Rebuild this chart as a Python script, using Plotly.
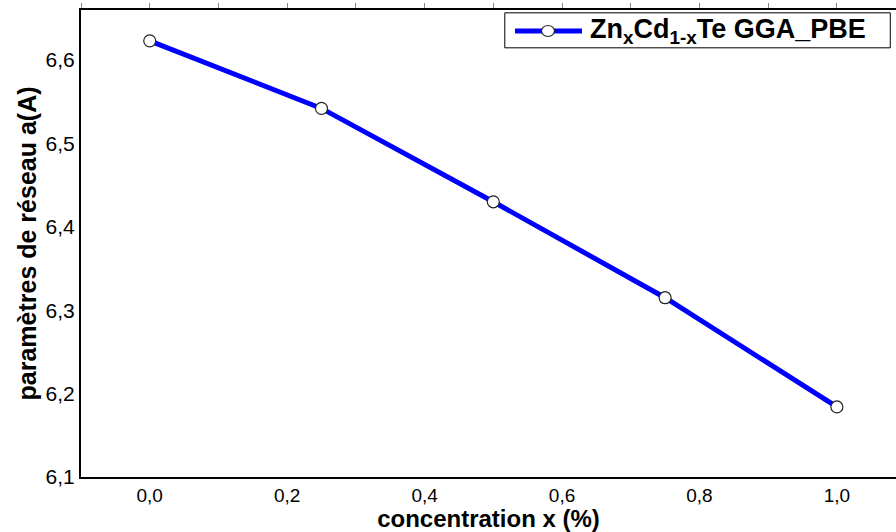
import plotly.graph_objects as go

# Lattice parameter of Zn(x)Cd(1-x)Te versus composition (GGA-PBE)
concentration = [0.0, 0.25, 0.5, 0.75, 1.0]
lattice_a = [6.623, 6.542, 6.430, 6.315, 6.184]

x_ticks = [0.0, 0.2, 0.4, 0.6, 0.8, 1.0]
y_ticks = [6.1, 6.2, 6.3, 6.4, 6.5, 6.6]

series_label = "<b>Zn<sub>x</sub>Cd<sub>1-x</sub>Te GGA_PBE</b>"
line_color = "#0000FF"

fig = go.Figure()
fig.add_trace(go.Scatter(
    x=concentration, y=lattice_a,
    mode="lines+markers",
    name=series_label, showlegend=False,
    line=dict(color=line_color, width=5),
    marker=dict(symbol="circle", size=12, color="white",
                line=dict(color="#222222", width=1.2)),
))
# top frame carrying small outward ticks every 0.1
fig.add_trace(go.Scatter(x=[None], y=[None], xaxis="x2", showlegend=False))

font_family = "Liberation Sans, Arial, sans-serif"

# legend box drawn in paper coordinates so the sample line can be long
lg_x0, lg_x1, lg_y0, lg_y1 = 0.520, 0.993, 0.919, 0.994
lg_line = (0.5325, 0.6147)
lg_mid_y = 0.955
lg_marker_x = 0.573

shapes = [
    dict(type="rect", xref="paper", yref="paper",
         x0=lg_x0, x1=lg_x1, y0=lg_y0, y1=lg_y1,
         line=dict(color="black", width=1), fillcolor="white", layer="above"),
    dict(type="line", xref="paper", yref="paper",
         x0=lg_line[0], x1=lg_line[1], y0=lg_mid_y, y1=lg_mid_y,
         line=dict(color=line_color, width=5), layer="above"),
    dict(type="circle", xref="paper", yref="paper",
         xsizemode="pixel", ysizemode="pixel",
         xanchor=lg_marker_x, yanchor=lg_mid_y,
         x0=-6.5, x1=6.5, y0=-5.5, y1=5.5,
         line=dict(color="#222222", width=1.2), fillcolor="white", layer="above"),
]

annotations = [
    dict(text=series_label, xref="paper", yref="paper",
         x=0.6225, y=lg_mid_y, xanchor="left", yanchor="middle",
         showarrow=False, font=dict(size=27, color="black", family=font_family)),
]

fig.update_layout(
    width=896, height=532,
    margin=dict(l=81, r=0, t=10, b=55),
    paper_bgcolor="white", plot_bgcolor="white",
    separators=", ",
    font=dict(family=font_family, color="black"),
    showlegend=False,
    shapes=shapes,
    annotations=annotations,
    xaxis=dict(
        range=[-0.1, 1.086], tickvals=x_ticks, tickformat=".1f",
        showgrid=False, zeroline=False,
        showline=True, linecolor="black", linewidth=2,
        ticks="", tickfont=dict(size=19),
        title=dict(text="<b>concentration x (%)</b>", font=dict(size=24), standoff=0),
    ),
    xaxis2=dict(
        overlaying="x", matches="x", side="top", anchor="y",
        showticklabels=False, dtick=0.1, tick0=0,
        ticks="outside", ticklen=5, tickcolor="#888888", tickwidth=1,
        showline=True, linecolor="black", linewidth=2,
        showgrid=False, zeroline=False,
    ),
    yaxis=dict(
        range=[6.1, 6.66], tickvals=y_ticks, tickformat=".1f",
        showgrid=False, zeroline=False,
        showline=True, linecolor="black", linewidth=2,
        ticks="", tickfont=dict(size=21),
        title=dict(text="<b>paramètres de réseau a(A)</b>", font=dict(size=25), standoff=2),
    ),
)

fig.write_html("out.html")
